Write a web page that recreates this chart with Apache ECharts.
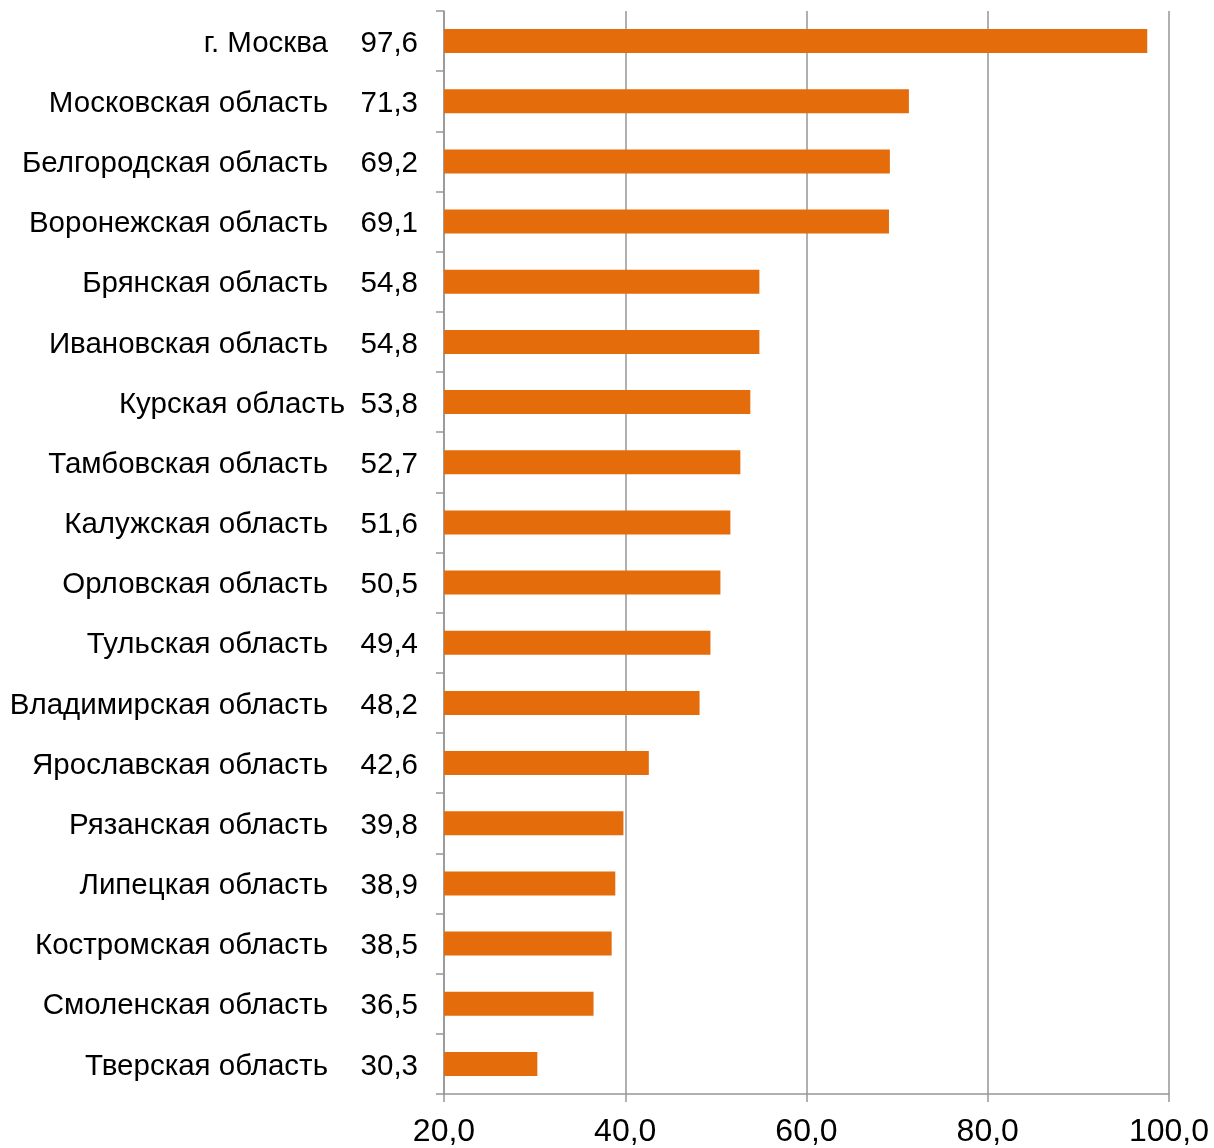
<!DOCTYPE html>
<html>
<head>
<meta charset="utf-8">
<script src="https://cdn.jsdelivr.net/npm/echarts@6/dist/echarts.min.js"></script>
<style>html,body{margin:0;padding:0;background:#fff}#c{width:1214px;height:1148px}</style>
</head>
<body>
<div id="c"></div>
<script>
const categories = ['г. Москва','Московская область','Белгородская область','Воронежская область','Брянская область','Ивановская область','Курская область','Тамбовская область','Калужская область','Орловская область','Тульская область','Владимирская область','Ярославская область','Рязанская область','Липецкая область','Костромская область','Смоленская область','Тверская область'];
const values = [97.6,71.3,69.2,69.1,54.8,54.8,53.8,52.7,51.6,50.5,49.4,48.2,42.6,39.8,38.9,38.5,36.5,30.3];
const xTicks = [20,40,60,80,100];
const tightLabels = ['Курская область'];

const fmt = v => v.toFixed(1).replace('.', ',');
const font = '"Liberation Sans", Arial, sans-serif';
const chart = echarts.init(document.getElementById('c'), null, {renderer:'canvas'});
chart.setOption({
  animation:false,
  grid:{left:444,right:45,top:11,bottom:54,containLabel:false},
  xAxis:{
    type:'value', min:xTicks[0], max:xTicks[xTicks.length-1], interval:20,
    axisLine:{show:true,lineStyle:{color:'#969696',width:1.5}},
    axisTick:{show:true,length:8,lineStyle:{color:'#969696',width:1.5}},
    splitLine:{show:true,lineStyle:{color:'#969696',width:1.5}},
    axisLabel:{margin:22,fontFamily:font,fontSize:32,color:'#000',formatter:v=>fmt(v)}
  },
  yAxis:{
    type:'category', data:categories, inverse:true,
    axisLine:{show:true,lineStyle:{color:'#969696',width:1.5}},
    axisTick:{show:true,length:8,lineStyle:{color:'#969696',width:1.5}},
    axisLabel:{
      margin:26, fontFamily:font, fontSize:29, color:'#000', padding:[5,0,0,0],
      formatter:(name, i)=>'{n|'+name+'}{'+(tightLabels.includes(name)?'t':'v')+'|'+fmt(values[i])+'}',
      rich:{
        n:{fontFamily:font,fontSize:29.5,color:'#000'},
        v:{fontFamily:font,fontSize:29.5,color:'#000',width:90,align:'right'},
        t:{fontFamily:font,fontSize:29.5,color:'#000',width:73,align:'right'}
      }
    }
  },
  series:[{type:'bar',data:values,barWidth:24,itemStyle:{color:'#E46C0A'}}]
});
</script>
</body>
</html>
